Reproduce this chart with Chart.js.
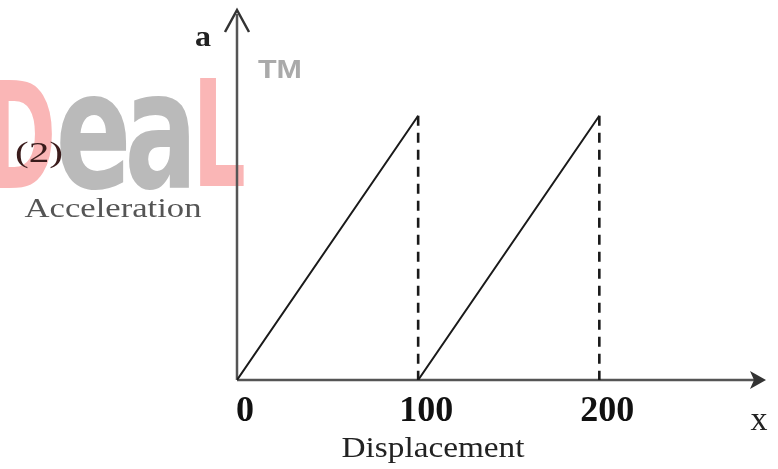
<!DOCTYPE html>
<html lang="en">
<head>
    <meta charset="UTF-8">
    <title>Acceleration vs Displacement</title>
    <script src="https://cdn.jsdelivr.net/npm/chart.js"></script>
    <style>
        html, body { margin: 0; padding: 0; background: #fff; }
        canvas { display: block; }
    </style>
</head>
<body>
    <canvas id="accChart" width="778" height="469"></canvas>

    <script>
        // --- data ---
        const displacement = [0, 100, 100, 200, 200];
        const acceleration = [0, 1, 0, 1, 0];
        const xTicks = [0, 100, 200];

        const SERIF = '"Liberation Serif", "DejaVu Serif", serif';
        const SANS = '"Liberation Sans", "DejaVu Sans", sans-serif';
        const HEAVY = '"DejaVu Sans Condensed", "DejaVu Sans", sans-serif';

        // ramps (solid) and vertical drops (dashed) as separate point lists, gaps between pieces
        function pieces(wantDrops) {
            const out = [];
            for (let i = 1; i < displacement.length; i++) {
                const drop = displacement[i] === displacement[i - 1];
                if (drop !== wantDrops) continue;
                if (out.length) out.push({ x: displacement[i - 1], y: null });
                out.push({ x: displacement[i - 1], y: acceleration[i - 1] });
                out.push({ x: displacement[i], y: acceleration[i] });
            }
            return out;
        }

        // draw text squeezed/stretched to a given width, centred on cx
        function fitText(c, text, cx, baseline, font, width, color) {
            c.save();
            c.font = font;
            c.fillStyle = color;
            c.textBaseline = 'alphabetic';
            c.textAlign = 'center';
            const w = c.measureText(text).width;
            c.translate(cx, baseline);
            c.scale(width / w, 1);
            c.fillText(text, 0, 0);
            c.restore();
        }

        // watermark glyph fitted into a box (left..right, sitting on bottom)
        function boxGlyph(c, ch, left, right, bottom, font, color) {
            c.save();
            c.font = font;
            c.fillStyle = color;
            c.textBaseline = 'alphabetic';
            c.textAlign = 'left';
            const m = c.measureText(ch);
            const w = m.actualBoundingBoxRight + m.actualBoundingBoxLeft;
            c.translate(left, bottom);
            c.scale((right - left) / w, 1);
            c.fillText(ch, m.actualBoundingBoxLeft, 0);
            c.restore();
        }

        const figurePlugin = {
            id: 'figure',
            beforeDraw(chart) {
                const c = chart.ctx;
                // faint watermark behind everything
                const red = 'rgb(250, 182, 182)';
                const gray = 'rgb(186, 186, 186)';
                boxGlyph(c, 'D', -8, 52, 188, 'bold 148px ' + HEAVY, red);
                boxGlyph(c, 'e', 60, 126, 188, 'bold 164px ' + HEAVY, gray);
                boxGlyph(c, 'a', 129, 189, 188, 'bold 164px ' + HEAVY, gray);
                boxGlyph(c, 'L', 200, 244, 186, 'bold 148px ' + HEAVY, red);
                fitText(c, 'TM', 280, 78, 'bold 26px ' + SANS, 44, 'rgb(170, 170, 170)');
            },
            beforeDatasetsDraw(chart) {
                const c = chart.ctx;
                const xs = chart.scales.x, ys = chart.scales.y;
                const x0 = xs.getPixelForValue(0), y0 = ys.getPixelForValue(0);
                const xEnd = xs.right, yEnd = ys.top;
                c.save();
                c.lineWidth = 2.5;
                c.strokeStyle = '#555';
                // axes
                c.beginPath();
                c.moveTo(x0, y0); c.lineTo(xEnd - 4, y0);
                c.moveTo(x0, y0); c.lineTo(x0, yEnd + 4);
                c.stroke();
                // x arrowhead
                c.fillStyle = '#333';
                c.beginPath();
                c.moveTo(xEnd, y0);
                c.lineTo(xEnd - 16, y0 - 9);
                c.lineTo(xEnd - 12, y0);
                c.lineTo(xEnd - 16, y0 + 9);
                c.closePath();
                c.fill();
                // y arrowhead (open V)
                c.strokeStyle = '#333';
                c.beginPath();
                c.moveTo(x0 - 12, yEnd + 22);
                c.lineTo(x0, yEnd);
                c.lineTo(x0 + 12, yEnd + 22);
                c.stroke();
                c.restore();
            },
            afterDraw(chart) {
                const c = chart.ctx;
                fitText(c, 'a', 203, 46, 'bold 30px ' + SERIF, 16, '#222');
                fitText(c, 'x', 759, 430, '34px ' + SERIF, 17, '#222');
                fitText(c, 'Displacement', 433, 457, '30px ' + SERIF, 183, '#222');
                fitText(c, 'Acceleration', 113, 217, '28px ' + SERIF, 177, '#555');
                fitText(c, '(2)', 39, 162, '30px ' + SERIF, 48, '#3a1c1c');
            }
        };

        const ctx = document.getElementById('accChart').getContext('2d');
        new Chart(ctx, {
            type: 'line',
            data: {
                datasets: [
                    {
                        label: 'ramp',
                        data: pieces(false),
                        borderColor: '#1a1a1a',
                        borderWidth: 2,
                        pointRadius: 0,
                        tension: 0,
                        spanGaps: false,
                        fill: false
                    },
                    {
                        label: 'drop',
                        data: pieces(true),
                        borderColor: '#1a1a1a',
                        borderWidth: 2.6,
                        borderDash: [10, 7],
                        pointRadius: 0,
                        tension: 0,
                        spanGaps: false,
                        fill: false
                    }
                ]
            },
            options: {
                responsive: false,
                animation: false,
                layout: { padding: { left: 237, right: 12, top: 10, bottom: 0 } },
                plugins: {
                    legend: { display: false },
                    tooltip: { enabled: false }
                },
                scales: {
                    x: {
                        type: 'linear',
                        min: 0,
                        max: 292,
                        grid: { display: false, drawTicks: false },
                        border: { display: false },
                        afterBuildTicks: scale => { scale.ticks = xTicks.map(v => ({ value: v })); },
                        afterFit: scale => { scale.height = 89; },
                        ticks: {
                            autoSkip: false,
                            maxRotation: 0,
                            padding: 10,
                            labelOffset: 8,
                            color: '#111',
                            font: { family: SERIF, size: 36, weight: 'bold' }
                        }
                    },
                    y: {
                        type: 'linear',
                        display: false,
                        min: 0,
                        max: 1.4
                    }
                }
            },
            plugins: [figurePlugin]
        });
    </script>
</body>
</html>
